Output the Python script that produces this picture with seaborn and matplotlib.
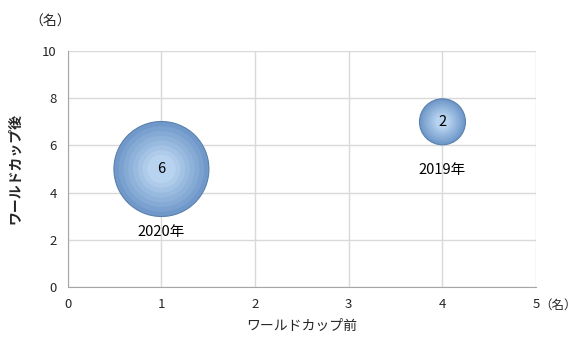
import pandas as pd
import numpy as np
import matplotlib
matplotlib.use("Agg")
import matplotlib.pyplot as plt
import matplotlib.colors as mcolors
import seaborn as sns

# data
years = ["2020年", "2019年"]
before_wc = [1, 4]
after_wc = [5, 7]
counts = [6, 2]

df = pd.DataFrame({"year": years, "before": before_wc, "after": after_wc, "count": counts})

sns.set_style("white")
plt.rcParams['font.family'] = ['Noto Sans CJK JP', 'DejaVu Sans']

fig, ax = plt.subplots(figsize=(5.79, 3.38), dpi=100)
fig.subplots_adjust(left=0.117, right=0.926, top=0.849, bottom=0.151)

# bubbles drawn as stacked layers to fake the sphere shading
small, big = 1096, 4679
dark = np.array(mcolors.to_rgb("#7099c9"))
light = np.array(mcolors.to_rgb("#b8d3f0"))
n_layers = 8
for k in range(n_layers):
    f = 1 - k * 0.1
    t = k / (n_layers - 1)
    col = tuple(dark * (1 - t) + light * t)
    sns.scatterplot(data=df, x="before", y="after", size="count",
                    sizes=(small * f * f, big * f * f),
                    color=col, edgecolor="#5a80ad" if k == 0 else "none",
                    linewidth=0.8, legend=False, ax=ax, zorder=3 + k * 0.01)

for _, r in df.iterrows():
    ax.text(r["before"], r["after"], str(r["count"]), ha="center", va="center",
            fontsize=10.5, color="black", zorder=5)

# year labels under each bubble
label_y = [2.35, 4.95]
for x, y, t in zip(before_wc, label_y, years):
    ax.text(x, y, t, ha="center", va="center", fontsize=10.5, color="black")

ax.set_xlim(0, 5)
ax.set_ylim(0, 10)
ax.set_xticks(range(0, 6))
ax.set_yticks(range(0, 11, 2))
ax.grid(True, color="#d9d9d9", linewidth=1)
ax.set_axisbelow(True)
for s in ["top", "right"]:
    ax.spines[s].set_visible(False)
for s in ["left", "bottom"]:
    ax.spines[s].set_color("#a6a6a6")
ax.tick_params(length=0, labelsize=9.5, colors="#262626", pad=8)

ax.set_xlabel("ワールドカップ前", fontsize=10, labelpad=6)
ax.set_ylabel("ワールドカップ後", fontsize=10, fontweight="bold", labelpad=14)

fig.text(0.086, 0.935, "（名）", fontsize=10, ha="center", va="center")
fig.text(0.997, 0.098, "（名）", fontsize=9, ha="right", va="center")

plt.savefig("out.png", dpi=100)
